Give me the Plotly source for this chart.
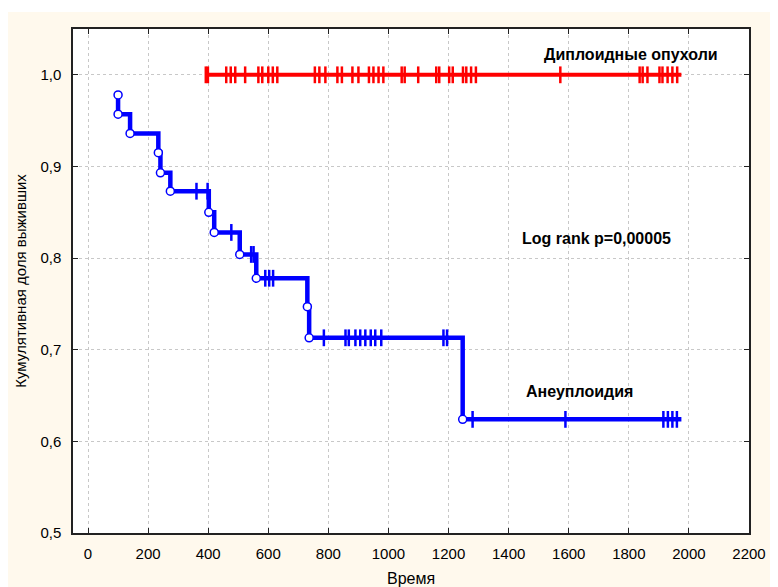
import plotly.graph_objects as go

# ---------------- data ----------------
# Aneuploid tumours: event (death) times and survival after each event
aneu_event_t = [100, 100, 140, 234, 241, 274, 402, 420, 505, 560, 730, 736, 1247]
aneu_event_s = [0.978, 0.957, 0.936, 0.915, 0.893, 0.873, 0.850, 0.828, 0.804, 0.778, 0.747, 0.713, 0.624]
aneu_last_t = 1975
aneu_censor_t = [361, 398, 477, 543, 551, 590, 603, 616,
                 785, 857, 868, 890, 906, 923, 941, 956, 976, 1183, 1195,
                 1280, 1589, 1915, 1930, 1945, 1960]

# Diploid tumours: no events, survival stays at 1.0
dipl_level = 1.0
dipl_start_t = 391
dipl_last_t = 1975
dipl_censor_t = [392, 399, 460, 475, 490, 523, 567, 580, 600, 615, 630,
                 755, 770, 790, 830, 845, 880, 900, 935, 950,
                 967, 983, 1044, 1054, 1099, 1159, 1169, 1202, 1214, 1248, 1259, 1275, 1291,
                 1572, 1836, 1846, 1862, 1902, 1912, 1929, 1945, 1961]

x_tick_vals = [0, 200, 400, 600, 800, 1000, 1200, 1400, 1600, 1800, 2000, 2200]
x_tick_text = ["0", "200", "400", "600", "800", "1000", "1200", "1400", "1600", "1800", "2000", "2200"]
y_tick_vals = [0.5, 0.6, 0.7, 0.8, 0.9, 1.0]
y_tick_text = ["0,5", "0,6", "0,7", "0,8", "0,9", "1,0"]

BLUE = "#0000FF"
RED = "#FF0000"
FONT = "Liberation Sans, Arial, sans-serif"


def surv_at(t):
    s = aneu_event_s[0]
    for et, es in zip(aneu_event_t, aneu_event_s):
        if et <= t:
            s = es
    return s


fig = go.Figure()

# diploid line
fig.add_trace(go.Scatter(x=[dipl_start_t, dipl_last_t], y=[dipl_level, dipl_level],
                         mode="lines", line=dict(color=RED, width=4), hoverinfo="skip"))
fig.add_trace(go.Scatter(x=dipl_censor_t, y=[dipl_level] * len(dipl_censor_t),
                         mode="markers",
                         marker=dict(symbol="line-ns", size=12, line=dict(color=RED, width=2.5)),
                         hoverinfo="skip"))

# aneuploid step curve
fig.add_trace(go.Scatter(x=aneu_event_t + [aneu_last_t], y=aneu_event_s + [aneu_event_s[-1]],
                         mode="lines", line=dict(color=BLUE, width=4.5, shape="hv"), hoverinfo="skip"))
fig.add_trace(go.Scatter(x=aneu_censor_t, y=[surv_at(t) for t in aneu_censor_t],
                         mode="markers",
                         marker=dict(symbol="line-ns", size=12, line=dict(color=BLUE, width=2.5)),
                         hoverinfo="skip"))
fig.add_trace(go.Scatter(x=aneu_event_t, y=aneu_event_s, mode="markers",
                         marker=dict(symbol="circle", size=8, color="white",
                                     line=dict(color=BLUE, width=1.5)),
                         hoverinfo="skip"))

axis_common = dict(showline=True, linecolor="#222", linewidth=1.5, mirror="ticks",
                   ticks="inside", ticklen=5, tickcolor="#222",
                   showgrid=True, gridcolor="#c8c8c8", griddash="dot", gridwidth=1,
                   zeroline=False, tickfont=dict(family=FONT, size=15, color="black"))

fig.update_layout(
    width=770, height=579,
    margin=dict(l=65, r=20, t=21, b=54),
    paper_bgcolor="#FFF9ED", plot_bgcolor="white",
    showlegend=False,
    font=dict(family=FONT, color="black"),
    xaxis=dict(range=[-50, 2200], tickvals=x_tick_vals, ticktext=x_tick_text,
               ticklabelstandoff=6, **axis_common),
    yaxis=dict(range=[0.5, 1.05], tickvals=y_tick_vals, ticktext=y_tick_text,
               ticklabelstandoff=7, **axis_common),
    shapes=[
        dict(type="rect", xref="paper", yref="paper", x0=-0.11, x1=1.04, y0=1.0337, y1=1.05,
             fillcolor="white", line=dict(width=0), layer="below"),
    ],
    annotations=[
        dict(text="<b>Диплоидные опухоли</b>", x=1806, y=1.0218, xref="x", yref="y",
             showarrow=False, font=dict(family=FONT, size=16)),
        dict(text="<b>Log rank p=0,00005</b>", x=1694, y=0.821, xref="x", yref="y",
             showarrow=False, font=dict(family=FONT, size=16)),
        dict(text="<b>Анеуплоидия</b>", x=1635, y=0.654, xref="x", yref="y",
             showarrow=False, font=dict(family=FONT, size=16)),
        dict(text="Кумулятивная доля выживших", x=(19 - 73) / 685, y=0.5, xref="paper", yref="paper",
             xanchor="center", yanchor="middle",
             textangle=-90, showarrow=False, font=dict(family=FONT, size=15)),
        dict(text="Время", x=0.5, y=(533 - 578) / 504, xref="paper", yref="paper",
             xanchor="center", yanchor="middle",
             showarrow=False, font=dict(family=FONT, size=16)),
    ],
)

fig.write_html("out.html")
